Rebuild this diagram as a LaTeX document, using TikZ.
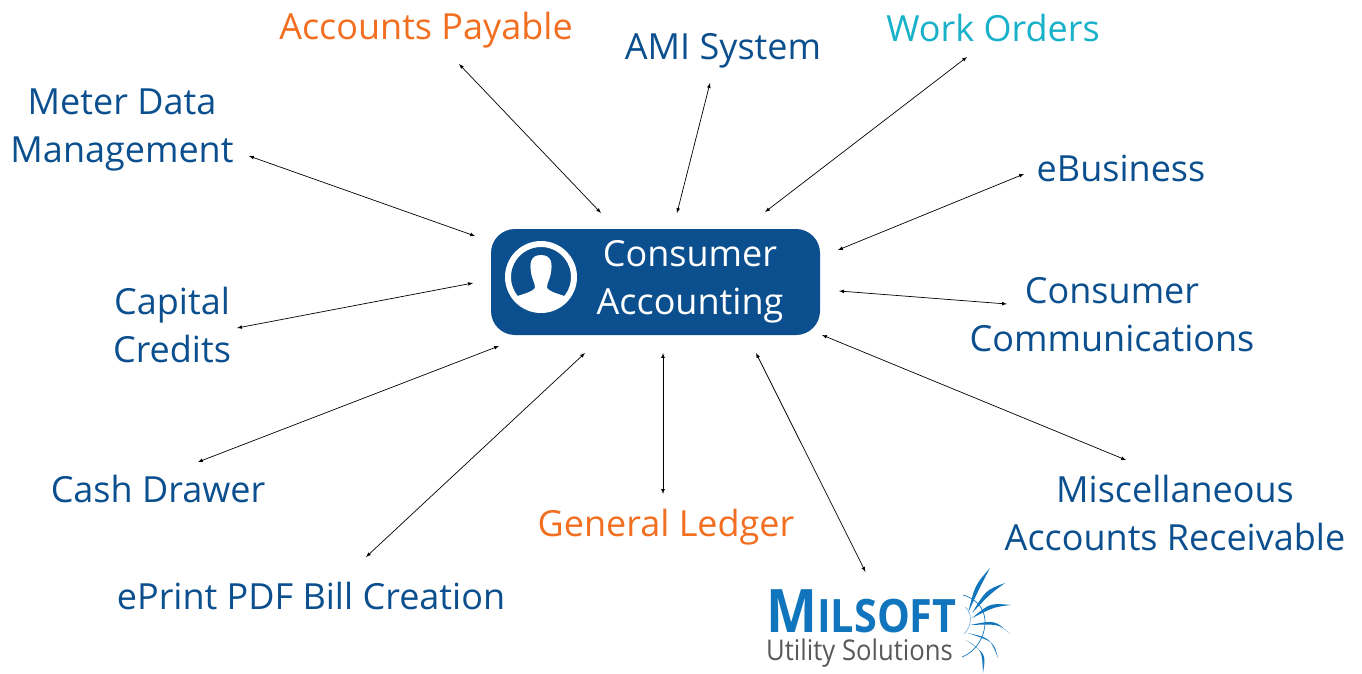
\documentclass[tikz,border=0pt]{standalone}
\usepackage{fontspec}
\setmainfont{Open Sans}
\newfontfamily\logofont[FakeStretch=0.9]{Open Sans}
\definecolor{hubblue}{HTML}{0B4F8E}
\definecolor{payorange}{HTML}{F26F21}
\definecolor{workteal}{HTML}{17B1C9}
\definecolor{logoblue}{HTML}{1075BC}
\definecolor{logogray}{HTML}{58595B}
\tikzset{
	system/.style = {align=center, inner sep=0pt, text=hubblue, font=\fontsize{36}{48}\selectfont},
	link/.style = {{latex[scale=0.9]}-{latex[scale=0.9]}, black, line width=0.7pt},
	ray/.style = {fill=logoblue, draw=none},
	thinarc/.style = {draw=logoblue, line width=0.7pt}
}

\begin{document}
\begin{tikzpicture}[x=1pt,y=-1pt]
	\useasboundingbox (0,0) rectangle (1362,673);
	% centre box
	\node[fill=hubblue, rounded corners=24pt, minimum width=329pt, minimum height=106pt, inner sep=0pt] (hub) at (655.5,282) {};
	\node[system, text=white] (hubtext) at (690,282) {Consumer\\Accounting};
	\draw[white, line width=6pt] (541,277) circle (33pt);
	\begin{scope}
		\clip (541,277) circle (31pt);
		\fill[white] (541,255) .. controls (529,255) and (530,266) .. (531,272)
			.. controls (532,280) and (535,282) .. (535,288)
			.. controls (530,294) and (518,294) .. (510,300) -- (510,320) -- (572,320) -- (572,300)
			.. controls (564,294) and (552,294) .. (547,288)
			.. controls (547,282) and (550,280) .. (551,272)
			.. controls (552,266) and (553,255) .. (541,255) -- cycle;
	\end{scope}
	% systems round the box
	\node[system, text=payorange] (payable) at (426,30) {Accounts Payable};
	\node[system] (ami) at (723,51) {AMI System};
	\node[system, text=workteal] (workorders) at (993,28) {Work Orders};
	\node[system] (ebusiness) at (1121,168) {eBusiness};
	\node[system] (communications) at (1112,315) {Consumer\\Communications};
	\node[system] (misc) at (1175,513) {Miscellaneous\\Accounts Receivable};
	\node[system, text=payorange] (ledger) at (666,527) {General Ledger};
	\node[system] (eprint) at (311,596) {ePrint PDF Bill Creation};
	\node[system] (cash) at (158,489) {Cash Drawer};
	\node[system] (capital) at (172,325) {Capital\\Credits};
	\node[system] (meter) at (122,130) {Meter Data\\Management};
	% logo
	\node[inner sep=0pt, anchor=base west, text=logoblue, font=\logofont\bfseries\fontsize{60}{60}\selectfont] (milsoft) at (766,632)
		{M\fontsize{46}{46}\selectfont ILSOFT};
	\node[inner sep=0pt, anchor=base west, text=logogray, font=\logofont\fontsize{28.5}{28.5}\selectfont] (utility) at (766,660) {Utility Solutions};
	\foreach \bx/\by/\cx/\cy/\tx/\ty in {968/613/975/585/990/568, 972/613/986/590/1005/583, 972/618/990/603/1011/605, 970/625/995/620/1010/634, 968/633/990/638/998/658, 966/640/982/650/983/673}
		\fill[ray] (\bx,\by) .. controls (\cx,\cy) .. (\tx,\ty) .. controls (\cx+4,\cy+4) .. (\bx,\by) -- cycle;
	\draw[thinarc] (963,595) .. controls (980,600) and (985,612) .. (985,622) .. controls (985,638) and (975,652) .. (962,657);
	\draw[thinarc, logoblue!50] (965,607) .. controls (972,612) and (973,625) .. (964,634);
	% links
	\draw[link] ([shift={(-54.5,-69)}]hub.center) -- ([shift={(33,34)}]payable.center);
	\draw[link] ([shift={(21.5,-69)}]hub.center) -- ([shift={(-13,32)}]ami.center);
	\draw[link] ([shift={(109.5,-70)}]hub.center) -- ([shift={(-26,29)}]workorders.center);
	\draw[link] ([shift={(182.5,-32)}]hub.center) -- ([shift={(-97,6)}]ebusiness.center);
	\draw[link] ([shift={(183.5,9)}]hub.center) -- ([shift={(-105,-11)}]communications.center);
	\draw[link] ([shift={(166.5,53)}]hub.center) -- ([shift={(-49,-53)}]misc.center);
	\draw[link] ([shift={(100.5,71)}]hub.center) -- ([shift={(4,-39)}]milsoft.center);
	\draw[link] ([shift={(7.5,71)}]hub.center) -- ([shift={(-3,-33)}]ledger.center);
	\draw[link] ([shift={(-70.5,71)}]hub.center) -- ([shift={(55,-39)}]eprint.center);
	\draw[link] ([shift={(-156.5,64)}]hub.center) -- ([shift={(40,-27)}]cash.center);
	\draw[link] ([shift={(-182.5,1)}]hub.center) -- ([shift={(65,3)}]capital.center);
	\draw[link] ([shift={(-180.5,-46)}]hub.center) -- ([shift={(127,26)}]meter.center);
\end{tikzpicture}
\end{document}
